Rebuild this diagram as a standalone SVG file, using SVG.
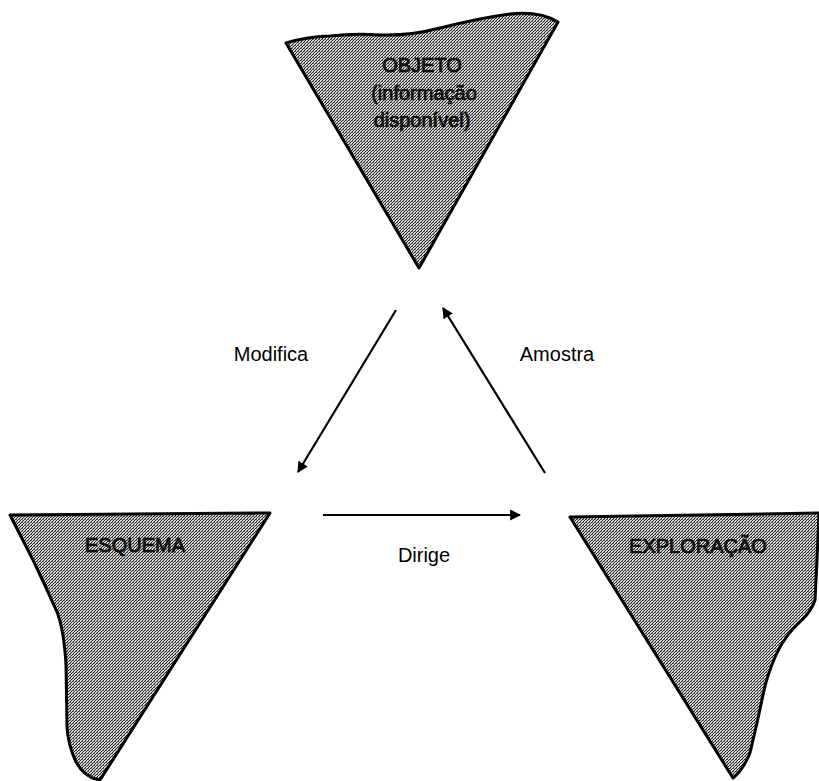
<svg xmlns="http://www.w3.org/2000/svg" width="819" height="781" viewBox="0 0 819 781">
  <defs>
    <!-- halftone screen used to fill the three wedges -->
    <pattern id="screen" width="3" height="3" patternUnits="userSpaceOnUse">
      <rect width="3" height="3" fill="#d8d8d8"/>
      <rect x="0" y="0" width="1" height="1" fill="#222"/>
      <rect x="2" y="1" width="1" height="1" fill="#222"/>
      <rect x="1" y="2" width="1" height="1" fill="#222"/>
      <rect x="1" y="0" width="1" height="1" fill="#777"/>
    </pattern>
    <marker id="head" viewBox="0 0 10 10" refX="9" refY="5" markerWidth="5" markerHeight="5" markerUnits="strokeWidth" orient="auto">
      <path d="M0,0 L10,5 L0,10 Z" fill="#000"/>
    </marker>
  </defs>
  <style>
    .wedge { fill: url(#screen); stroke: #000; stroke-width: 3; stroke-linejoin: round; }
    .inner { font-family: "Liberation Sans", Arial, sans-serif; font-size: 20px; fill: #1a1a1a; stroke: #000; stroke-width: 0.7; text-anchor: middle; }
    .label { font-family: "Liberation Sans", Arial, sans-serif; font-size: 20px; fill: #000; text-anchor: middle; }
    .link { stroke: #000; stroke-width: 2.2; fill: none; marker-end: url(#head); }
  </style>

  <rect width="819" height="781" fill="#fff"/>

  <g id="objeto">
    <path class="wedge" d="M286,43 Q305,37 330,36 Q355,33 380,35 Q410,36 440,28 Q480,18 510,14 Q540,11 558,22 L419,268 Z"/>
    <text class="inner" x="422" y="72">OBJETO</text>
    <text class="inner" x="424" y="100">(informação</text>
    <text class="inner" x="422" y="127">disponível)</text>
  </g>

  <g id="esquema">
    <path class="wedge" d="M10,515 L270,513 L100,780 Q85,778 76,762 Q68,745 67,727 L66,665 Q64,630 57,612 Q45,585 33,560 Z"/>
    <text class="inner" x="135" y="552" font-size="21">ESQUEMA</text>
  </g>

  <g id="exploracao">
    <path class="wedge" d="M570,517 L819,513 L817,560 L815,600 Q812,610 802,620 Q785,635 776,655 Q767,675 763,695 L757,723 L750,753 Q743,770 733,778 Z"/>
    <text class="inner" x="698" y="553" font-size="21">EXPLORAÇÃO</text>
  </g>

  <g id="connectors">
    <line class="link" x1="396" y1="310" x2="298" y2="472"/>
    <line class="link" x1="545" y1="473" x2="443" y2="308"/>
    <line class="link" x1="323" y1="515" x2="520" y2="515"/>
  </g>

  <g id="labels">
    <text class="label" x="271" y="361">Modifica</text>
    <text class="label" x="557" y="361">Amostra</text>
    <text class="label" x="424" y="562">Dirige</text>
  </g>
</svg>
